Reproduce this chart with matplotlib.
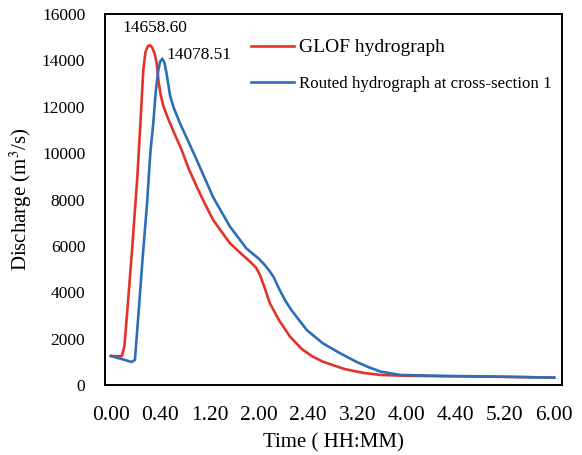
import matplotlib
matplotlib.use("Agg")
import matplotlib.pyplot as plt

plt.rcParams['font.family'] = ['Liberation Serif', 'DejaVu Serif']
plt.rcParams['mathtext.fontset'] = 'stix'

# time in minutes after start, discharge in m3/s
glof_t = [0, 5, 9, 11, 14, 17, 19.5, 21.5, 24.1, 26.3, 28, 30, 31.7, 33.5,
          35.5, 37.1, 38.8, 40.5, 42.5, 46, 50.7, 57, 63, 69.7, 76, 83, 90,
          96.7, 105, 113, 118, 121, 125, 129, 137, 145.5, 155, 163, 172, 190,
          205, 219, 240, 270, 300, 330, 360]
glof_q = [1250, 1240, 1250, 1700, 3660, 5700, 7540, 9000, 11430, 13580,
          14350, 14620, 14658.6, 14560, 14300, 13900, 13050, 12500, 12050,
          11550, 10950, 10200, 9350, 8550, 7850, 7120, 6600, 6110, 5700, 5320,
          5050, 4750, 4170, 3530, 2750, 2080, 1550, 1250, 1005, 680, 520, 430,
          395, 375, 360, 340, 315]

routed_t = [0, 8, 16.8, 19.5, 22, 25.5, 29.3, 32, 34.4, 36.5, 38.5, 40, 41.7,
            43.5, 45.3, 48, 50.7, 56, 64.2, 71, 83, 96.7, 110, 120, 125, 129,
            132, 137, 142, 147, 159, 172, 186, 200, 210, 219, 235, 270, 300,
            330, 360]
routed_q = [1250, 1130, 990, 1080, 2800, 5300, 7800, 10000, 11300, 12700,
            13600, 13950, 14078.51, 13900, 13400, 12500, 12000, 11300, 10350,
            9550, 8100, 6830, 5890, 5450, 5170, 4900, 4670, 4100, 3600, 3200,
            2370, 1800, 1370, 980, 750, 575, 430, 390, 370, 345, 315]

x_ticks = list(range(0, 361, 40))
x_labels = ['%d.%02d' % (m // 60, m % 60) for m in x_ticks]

fig = plt.figure(figsize=(5.82, 4.55), dpi=100)
ax = fig.add_axes([0.180, 0.154, 0.786, 0.815])

ax.plot(glof_t, glof_q, color='#E3342A', lw=1.9, label='GLOF hydrograph')
ax.plot(routed_t, routed_q, color='#2C6FB7', lw=1.9,
        label='Routed hydrograph at cross-section 1')

ax.text(35.4, 15390, '%.2f' % max(glof_q), ha='center', va='center', fontsize=12.5)
ax.text(45.0, 14220, '%.2f' % max(routed_q), ha='left', va='center', fontsize=12.5)

ax.set_xlim(-5, 366.5)
ax.set_ylim(0, 16000)
ax.set_xticks(x_ticks)
ax.set_xticklabels(x_labels, fontsize=15.5)
ax.set_yticks(range(0, 16001, 2000))
ax.tick_params(axis='y', labelsize=12.5, length=0, pad=14)
ax.tick_params(axis='x', length=0, pad=15)

ax.set_xlabel('Time ( HH:MM)', fontsize=15, labelpad=6)
ax.set_ylabel('Discharge (m$^3$/s)', fontsize=15, labelpad=6)

for s in ax.spines.values():
    s.set_linewidth(1.4)
    s.set_color('black')

leg = ax.legend(loc='upper left', bbox_to_anchor=(0.285, 0.975), frameon=False,
                fontsize=12.5, handlelength=2.5, handletextpad=0.3,
                labelspacing=1.15)
leg.get_texts()[0].set_fontsize(14)
leg.get_texts()[1].set_fontsize(12.2)

plt.savefig('out.png', dpi=100)
